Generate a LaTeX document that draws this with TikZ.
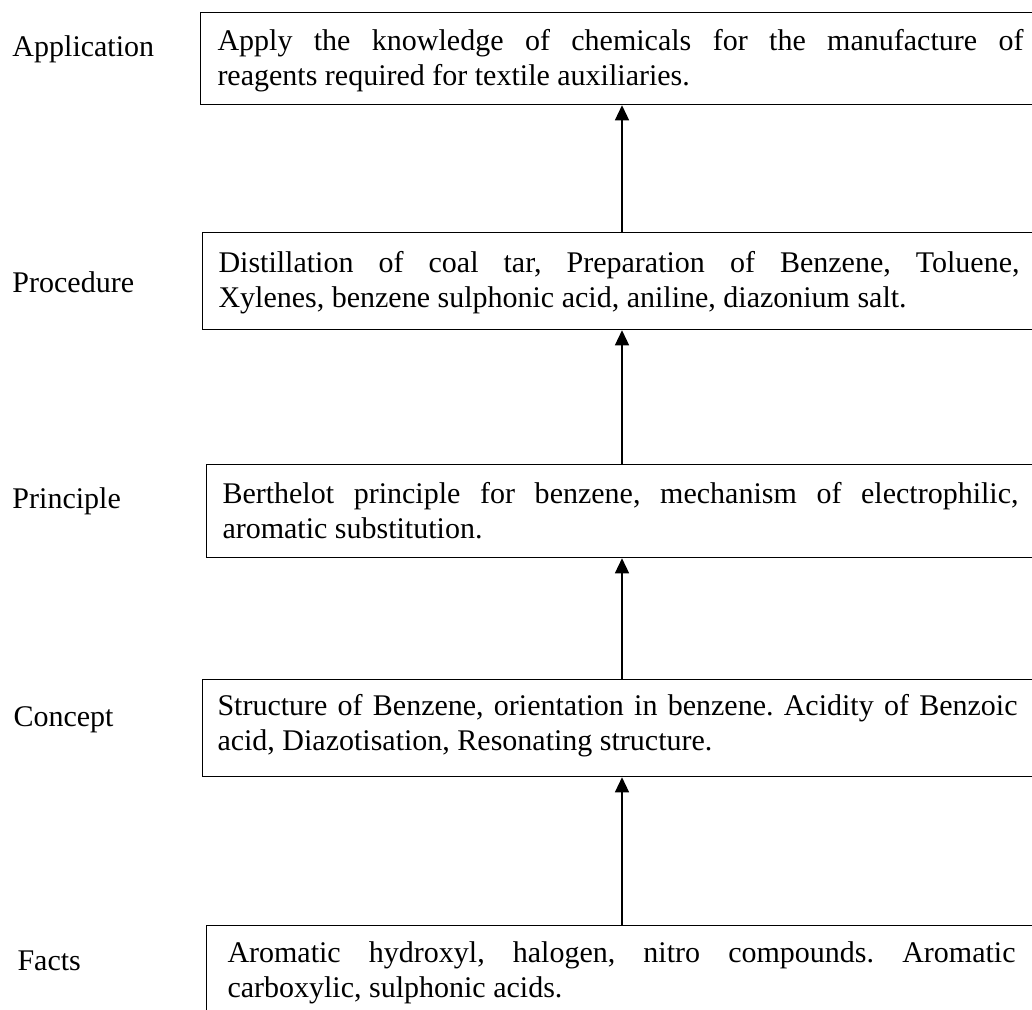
\documentclass[tikz,border=0pt]{standalone}
\usepackage{fontspec}
\setmainfont{Liberation Serif}
\usetikzlibrary{arrows.meta}
\frenchspacing
\begin{document}
\begin{tikzpicture}[x=0.4pt,y=-0.4pt,
  box/.style={draw, line width=0.5pt, anchor=north west, minimum width=360pt, inner sep=0pt},
  txt/.style={anchor=north west, inner sep=0pt, align=justify, font=\fontsize{12}{14}\selectfont},
  lab/.style={anchor=base west, inner sep=0pt, font=\fontsize{12}{14}\selectfont},
  arr/.style={-{Triangle[length=6pt,width=5.6pt]}, line width=0.5pt}]
\useasboundingbox (0,0) rectangle (1032,1009);
\clip (0,0) rectangle (1032,1009);
% boxes
\node[box, minimum height=36.8pt] (b1) at (200,12) {};
\node[box, minimum height=38.8pt] (b2) at (202,232) {};
\node[box, minimum height=37.2pt] (b3) at (206,464) {};
\node[box, minimum height=38.8pt] (b4) at (202,679) {};
\node[box, minimum height=40pt] (b5) at (206,925) {};
% texts
\node[txt, text width=322.4pt] (t1) at (217,25.5) {\strut Apply the knowledge of chemicals for the manufacture of\linebreak reagents required for textile auxiliaries.\strut};
\node[txt, text width=320.4pt] (t2) at (218,247.5) {\strut Distillation of coal tar, Preparation of Benzene, Toluene,\linebreak Xylenes, benzene sulphonic acid, aniline, diazonium salt.\strut};
\node[txt, text width=318.4pt] (t3) at (222,478.5) {\strut Berthelot principle for benzene, mechanism of electrophilic,\linebreak aromatic substitution.\strut};
\node[txt, text width=320pt] (t4) at (217,690.5) {\strut Structure of Benzene, orientation in benzene. Acidity of Benzoic\linebreak acid, Diazotisation, Resonating structure.\strut};
\node[txt, text width=315.2pt] (t5) at (227,937.5) {\strut Aromatic hydroxyl, halogen, nitro compounds. Aromatic\linebreak carboxylic, sulphonic acids.\strut};
% labels
\node[lab] (l1) at (12,56) {Application};
\node[lab] (l2) at (12,292) {Procedure};
\node[lab] (l3) at (12,508) {Principle};
\node[lab] (l4) at (13,726) {Concept};
\node[lab] (l5) at (17,970) {Facts};
% arrows
\coordinate (ax) at (622,0);
\draw[arr] (b2.north -| ax) -- (b1.south -| ax);
\draw[arr] (b3.north -| ax) -- (b2.south -| ax);
\draw[arr] (b4.north -| ax) -- (b3.south -| ax);
\draw[arr] (b5.north -| ax) -- (b4.south -| ax);
\end{tikzpicture}
\end{document}
